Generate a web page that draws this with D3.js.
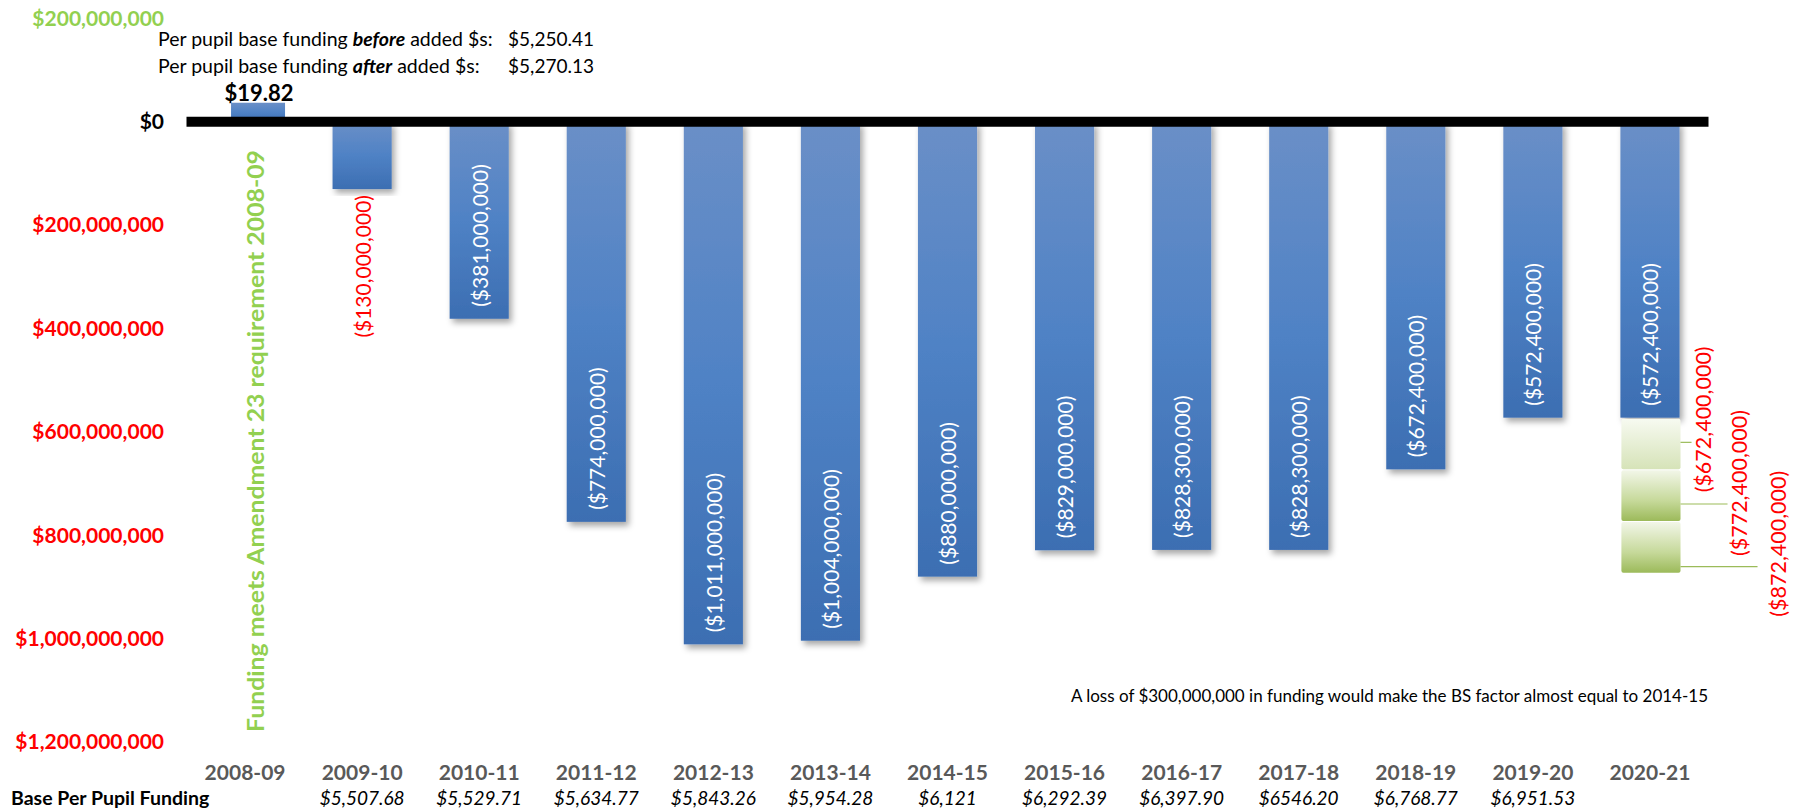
<!DOCTYPE html>
<html>
<head>
<meta charset="utf-8">
<script src="https://cdn.jsdelivr.net/npm/d3@7"></script>
<style>
  body { margin: 0; background: #fff; }
  svg { display: block; font-family: Lato, "Open Sans", sans-serif; }
</style>
</head>
<body>
<svg id="chart" width="1800" height="809"></svg>
<script>
// school years on the x axis
var years = ["2008-09","2009-10","2010-11","2011-12","2012-13","2013-14","2014-15",
             "2015-16","2016-17","2017-18","2018-19","2019-20","2020-21"];
// funding shortfall per year (2008-09 is the small positive marker bar)
var shortfall = [37000000, -130000000, -381000000, -774000000, -1011000000, -1004000000,
                 -880000000, -829000000, -828300000, -828300000, -672400000, -572400000, -572400000];
// possible further cuts stacked under 2020-21
var scenarioEnds = [-672400000, -772400000, -872400000];
// base per pupil funding row
var perPupil = ["", "$5,507.68", "$5,529.71", "$5,634.77", "$5,843.26", "$5,954.28", "$6,121",
                "$6,292.39", "$6,397.90", "$6546.20", "$6,768.77", "$6,951.53", ""];
var yTicks = [200000000, 0, -200000000, -400000000, -600000000, -800000000, -1000000000, -1200000000];

var svg = d3.select("#chart");
var defs = svg.append("defs");

var blue = defs.append("linearGradient").attr("id","blueGrad")
  .attr("x1",0).attr("y1",0).attr("x2",0).attr("y2",1);
blue.append("stop").attr("offset","0%").attr("stop-color","#6A8FC7");
blue.append("stop").attr("offset","50%").attr("stop-color","#4F82C5");
blue.append("stop").attr("offset","100%").attr("stop-color","#3C6EB2");

var pale = defs.append("linearGradient").attr("id","paleGrad")
  .attr("x1",0).attr("y1",0).attr("x2",0).attr("y2",1);
pale.append("stop").attr("offset","0%").attr("stop-color","#F7FAF1");
pale.append("stop").attr("offset","100%").attr("stop-color","#D6E3B8");

var green = defs.append("linearGradient").attr("id","greenGrad")
  .attr("x1",0).attr("y1",0).attr("x2",0).attr("y2",1);
green.append("stop").attr("offset","0%").attr("stop-color","#F2F6E8");
green.append("stop").attr("offset","60%").attr("stop-color","#C6D99A");
green.append("stop").attr("offset","100%").attr("stop-color","#9CBA5A");

var shadow = defs.append("filter").attr("id","shadow")
  .attr("x","-20%").attr("y","-5%").attr("width","150%").attr("height","115%");
shadow.append("feDropShadow").attr("dx",3).attr("dy",4).attr("stdDeviation",3)
  .attr("flood-color","#000").attr("flood-opacity",0.35);

var y = d3.scaleLinear().domain([-1200000000, 200000000]).range([742, 18.5]);
var x = d3.scaleBand().domain(years).range([186.5, 1708.5]).padding(0);
var cx = function(d){ return x(d) + x.bandwidth()/2; };
var barW = x.bandwidth() * 0.505;

// y axis labels
var yAxis = d3.axisLeft(y).tickValues(yTicks).tickSize(0).tickPadding(0)
  .tickFormat(function(v){ return v === 0 ? "$0" : "$" + d3.format(",")(Math.abs(v)); });
var ya = svg.append("g").attr("transform","translate(164,0)").call(yAxis);
ya.select(".domain").remove();
ya.selectAll("text")
  .attr("font-family","Lato, sans-serif")
  .attr("font-size",21).attr("font-weight","bold")
  .attr("fill", function(v){ return v > 0 ? "#92D050" : (v === 0 ? "#000" : "#FF0000"); });

var rows = years.map(function(d,i){ return {year:d, v:shortfall[i], i:i}; });

// blue bars
svg.append("g").selectAll("rect").data(rows).enter().append("rect")
  .attr("x", function(d){ return d.i === 0 ? cx(d.year) - 14 : cx(d.year) - barW/2; })
  .attr("width", function(d){ return d.i === 0 ? 54 : barW; })
  .attr("y", function(d){ return Math.min(y(d.v), y(0)); })
  .attr("height", function(d){ return Math.abs(y(d.v) - y(0)); })
  .attr("fill","url(#blueGrad)")
  .attr("filter", function(d){ return d.i === 0 ? null : "url(#shadow)"; });

// stacked green scenario segments under 2020-21
var last = years[years.length-1];
var segs = scenarioEnds.map(function(e,i){
  return {start: i === 0 ? shortfall[shortfall.length-1] : scenarioEnds[i-1], end: e, i: i};
});
svg.append("g").selectAll("rect").data(segs).enter().append("rect")
  .attr("x", cx(last) - barW/2 + 1)
  .attr("width", barW)
  .attr("y", function(d){ return y(d.start) + 1; })
  .attr("height", function(d){ return y(d.end) - y(d.start) - 1; })
  .attr("rx", 2)
  .attr("fill", function(d){ return d.i === 0 ? "url(#paleGrad)" : "url(#greenGrad)"; });

// leader lines and red labels for the scenarios
var leaderDy = [-27, -17, -6];
var labelDx = [22, 58, 97];
var labelDy = [50, 52, 50];
var barRight = cx(last) + barW/2 + 1;
segs.forEach(function(d){
  var ly = y(d.end) + leaderDy[d.i];
  var lx = barRight + labelDx[d.i];
  svg.append("line").attr("x1", barRight).attr("x2", lx - (d.i === 2 ? 20 : 11))
    .attr("y1", ly).attr("y2", ly).attr("stroke","#9BBB59").attr("stroke-width",1.2);
  svg.append("text")
    .attr("transform","translate(" + lx + "," + (ly + labelDy[d.i]) + ") rotate(-90)")
    .attr("dominant-baseline","central")
    .attr("font-size",21.5).attr("fill","#FF0000")
    .text("($" + d3.format(",")(Math.abs(d.end)) + ")");
});

// zero line
svg.append("line").attr("x1",186.5).attr("x2",1708.5)
  .attr("y1",y(0)).attr("y2",y(0)).attr("stroke","#000").attr("stroke-width",10);

// value labels on bars
svg.append("g").selectAll("text").data(rows.slice(1)).enter().append("text")
  .attr("transform", function(d){
    var outside = d.i === 1;
    return "translate(" + cx(d.year) + "," + (outside ? y(d.v) + 6 : y(d.v) - 12) + ") rotate(-90)";
  })
  .attr("text-anchor", function(d){ return d.i === 1 ? "end" : "start"; })
  .attr("dominant-baseline","central")
  .attr("font-size",21)
  .attr("fill", function(d){ return d.i === 1 ? "#FF0000" : "#fff"; })
  .text(function(d){ return "($" + d3.format(",")(Math.abs(d.v)) + ")"; });

// $19.82 marker
svg.append("text").attr("x", 259).attr("y", 92).attr("text-anchor","middle")
  .attr("dominant-baseline","central").attr("font-size",22).attr("font-weight","bold")
  .attr("fill","#000").text("$19.82");

// green rotated note
svg.append("text")
  .attr("transform","translate(255,441) rotate(-90)")
  .attr("text-anchor","middle").attr("dominant-baseline","central")
  .attr("font-size",23).attr("font-weight","bold").attr("fill","#92D050")
  .attr("textLength",582).attr("lengthAdjust","spacingAndGlyphs")
  .text("Funding meets Amendment 23 requirement 2008-09");

// per pupil notes at top
var note1 = svg.append("text").attr("x",158).attr("y",38).attr("dominant-baseline","central")
  .attr("font-size",19.5).attr("fill","#000");
note1.append("tspan").text("Per pupil base funding ");
note1.append("tspan").attr("font-weight","bold").attr("font-style","italic").text("before");
note1.append("tspan").text(" added $s:");
var note2 = svg.append("text").attr("x",158).attr("y",65).attr("dominant-baseline","central")
  .attr("font-size",19.5).attr("fill","#000");
note2.append("tspan").text("Per pupil base funding ");
note2.append("tspan").attr("font-weight","bold").attr("font-style","italic").text("after");
note2.append("tspan").text(" added $s:");
svg.append("text").attr("x",594).attr("y",38).attr("text-anchor","end")
  .attr("dominant-baseline","central").attr("font-size",19).text("$5,250.41");
svg.append("text").attr("x",594).attr("y",65).attr("text-anchor","end")
  .attr("dominant-baseline","central").attr("font-size",19).text("$5,270.13");

// loss note
svg.append("text").attr("x",1708).attr("y",695).attr("text-anchor","end")
  .attr("dominant-baseline","central").attr("font-size",17).attr("fill","#000")
  .text("A loss of $300,000,000 in funding would make the BS factor almost equal to 2014-15");

// category labels
var xa = svg.append("g").attr("transform","translate(0,771)")
  .call(d3.axisBottom(x).tickSize(0).tickPadding(0));
xa.select(".domain").remove();
xa.selectAll("text").attr("dy",null).attr("dominant-baseline","central")
  .attr("font-family","Lato, sans-serif")
  .attr("font-size",21).attr("font-weight","bold").attr("fill","#595959");

// per pupil funding row
svg.append("text").attr("x",11).attr("y",797).attr("dominant-baseline","central")
  .attr("font-size",19.5).attr("font-weight","bold").attr("fill","#000")
  .text("Base Per Pupil Funding");
svg.append("g").selectAll("text").data(rows).enter().append("text")
  .attr("x", function(d){ return cx(d.year); }).attr("y",797)
  .attr("text-anchor","middle").attr("dominant-baseline","central")
  .attr("font-size",19).attr("font-style","italic").attr("fill","#000")
  .text(function(d){ return perPupil[d.i]; });
</script>
</body>
</html>
